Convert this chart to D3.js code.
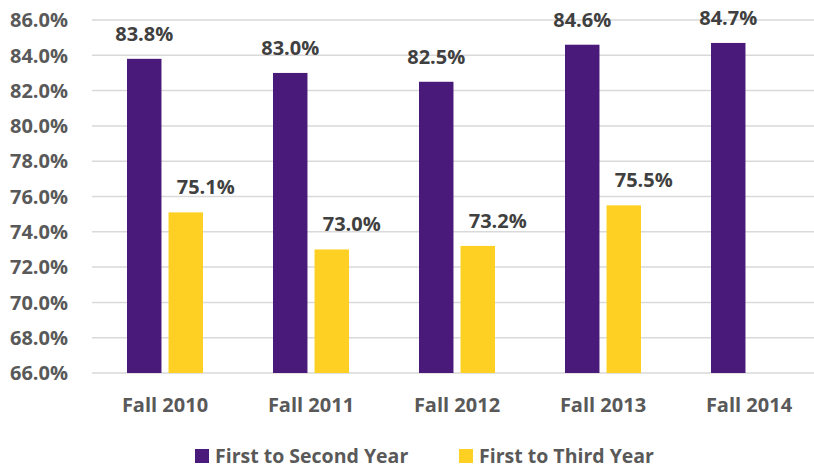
<!DOCTYPE html>
<html><head><meta charset="utf-8">
<script src="https://cdn.jsdelivr.net/npm/d3@7"></script>
<style>body{margin:0;background:#fff}svg{display:block}text{font-family:"Open Sans","Liberation Sans",sans-serif;font-weight:bold}</style>
</head><body><svg id="c" width="814" height="468"></svg>
<script>
const categories = ["Fall 2010","Fall 2011","Fall 2012","Fall 2013","Fall 2014"];
const seriesNames = ["First to Second Year","First to Third Year"];
const firstToSecond = [83.8, 83.0, 82.5, 84.6, 84.7];
const firstToThird = [75.1, 73.0, 73.2, 75.5, null];
const yTicks = [66,68,70,72,74,76,78,80,82,84,86];
const colors = ["#4a1a7a","#fdd023"];

const svg = d3.select("#c");
const x = d3.scaleBand().domain(categories).range([92, 822]);
const y = d3.scaleLinear().domain([66, 86]).range([373, 20]);
const xs = d3.scaleBand().domain([0,1]).range([35, 111]).paddingInner(0.17);
const labelShift = [0, 20];

svg.append("g").selectAll("line").data(yTicks).join("line")
  .attr("x1", 92).attr("x2", 814).attr("y1", d=>y(d)).attr("y2", d=>y(d))
  .attr("stroke", "#d9d9d9").attr("stroke-width", 1.5);

svg.append("g").selectAll("text").data(yTicks).join("text")
  .attr("x", 68).attr("y", d=>y(d)).attr("dy", "0.36em").attr("text-anchor","end")
  .attr("font-size", 20).attr("fill", "#595959").text(d=>d.toFixed(1)+"%");

const series = [firstToSecond, firstToThird];
series.forEach((vals, si) => {
  const data = categories.map((c,i)=>({c, v: vals[i]})).filter(d=>d.v!=null);
  const g = svg.append("g");
  g.selectAll("rect").data(data).join("rect")
    .attr("x", d=>x(d.c)+xs(si)).attr("width", xs.bandwidth())
    .attr("y", d=>y(d.v)).attr("height", d=>y(66)-y(d.v)).attr("fill", colors[si]);
  g.selectAll("text").data(data).join("text")
    .attr("x", d=>x(d.c)+xs(si)+xs.bandwidth()/2+labelShift[si]).attr("y", d=>y(d.v)-18)
    .attr("text-anchor","middle").attr("font-size", 20).attr("fill", "#404040")
    .text(d=>d.v.toFixed(1)+"%");
});

svg.append("g").selectAll("text").data(categories).join("text")
  .attr("x", d=>x(d)+x.bandwidth()/2).attr("y", 412).attr("text-anchor","middle")
  .attr("font-size", 20).attr("fill", "#595959").text(d=>d);

const legX = [195, 459];
const lg = svg.append("g").selectAll("g").data(seriesNames).join("g")
  .attr("transform", (d,i)=>`translate(${legX[i]},449)`);
lg.append("rect").attr("width", 14).attr("height", 14).attr("fill", (d,i)=>colors[i]);
lg.append("text").attr("x", 20).attr("y", 13.5).attr("font-size", 19.5).attr("fill","#595959").text(d=>d);
</script></body></html>
